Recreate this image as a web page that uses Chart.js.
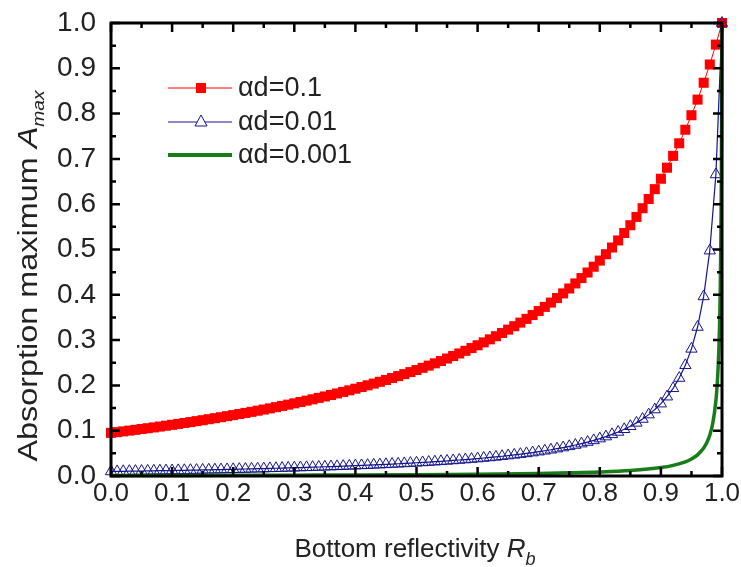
<!DOCTYPE html>
<html>
<head>
<meta charset="utf-8">
<script src="https://cdn.jsdelivr.net/npm/chart.js@4/dist/chart.umd.min.js"></script>
<style>
  body { margin: 0; background: #fff; }
  canvas { display: block; }
</style>
</head>
<body>
<canvas id="myChart" width="741" height="567"></canvas>
<script>
"use strict";

// bottom reflectivity R_b (shared by the two marker series)
const reflectivity = [
  0.00, 0.01, 0.02, 0.03, 0.04, 0.05, 0.06, 0.07, 0.08, 0.09,
  0.10, 0.11, 0.12, 0.13, 0.14, 0.15, 0.16, 0.17, 0.18, 0.19,
  0.20, 0.21, 0.22, 0.23, 0.24, 0.25, 0.26, 0.27, 0.28, 0.29,
  0.30, 0.31, 0.32, 0.33, 0.34, 0.35, 0.36, 0.37, 0.38, 0.39,
  0.40, 0.41, 0.42, 0.43, 0.44, 0.45, 0.46, 0.47, 0.48, 0.49,
  0.50, 0.51, 0.52, 0.53, 0.54, 0.55, 0.56, 0.57, 0.58, 0.59,
  0.60, 0.61, 0.62, 0.63, 0.64, 0.65, 0.66, 0.67, 0.68, 0.69,
  0.70, 0.71, 0.72, 0.73, 0.74, 0.75, 0.76, 0.77, 0.78, 0.79,
  0.80, 0.81, 0.82, 0.83, 0.84, 0.85, 0.86, 0.87, 0.88, 0.89,
  0.90, 0.91, 0.92, 0.93, 0.94, 0.95, 0.96, 0.97, 0.98, 0.99,
  1.00
];

// αd = 0.1 (red squares)
const amax01 = [
  0.0952, 0.0968, 0.0985, 0.1002, 0.1019, 0.1037, 0.1055, 0.1073, 0.1092, 0.1111,
  0.1130, 0.1150, 0.1170, 0.1190, 0.1211, 0.1232, 0.1254, 0.1276, 0.1298, 0.1321,
  0.1344, 0.1368, 0.1392, 0.1416, 0.1442, 0.1467, 0.1493, 0.1520, 0.1547, 0.1575,
  0.1604, 0.1633, 0.1663, 0.1693, 0.1724, 0.1756, 0.1789, 0.1822, 0.1856, 0.1891,
  0.1927, 0.1964, 0.2002, 0.2040, 0.2080, 0.2120, 0.2162, 0.2205, 0.2249, 0.2294,
  0.2340, 0.2388, 0.2437, 0.2487, 0.2539, 0.2593, 0.2648, 0.2705, 0.2763, 0.2824,
  0.2886, 0.2950, 0.3017, 0.3086, 0.3157, 0.3231, 0.3307, 0.3386, 0.3468, 0.3553,
  0.3641, 0.3733, 0.3828, 0.3928, 0.4031, 0.4139, 0.4251, 0.4369, 0.4492, 0.4620,
  0.4755, 0.4896, 0.5044, 0.5200, 0.5364, 0.5536, 0.5719, 0.5911, 0.6115, 0.6332,
  0.6562, 0.6806, 0.7067, 0.7345, 0.7644, 0.7964, 0.8309, 0.8681, 0.9084, 0.9523,
  1.0000
];

// αd = 0.01 (blue open triangles)
const amax001 = [
  0.0100, 0.0101, 0.0104, 0.0106, 0.0108, 0.0110, 0.0112, 0.0114, 0.0117, 0.0119,
  0.0121, 0.0124, 0.0126, 0.0129, 0.0131, 0.0134, 0.0137, 0.0139, 0.0142, 0.0145,
  0.0148, 0.0151, 0.0154, 0.0158, 0.0161, 0.0164, 0.0168, 0.0171, 0.0175, 0.0179,
  0.0183, 0.0187, 0.0191, 0.0195, 0.0199, 0.0204, 0.0209, 0.0213, 0.0218, 0.0223,
  0.0229, 0.0234, 0.0239, 0.0245, 0.0251, 0.0257, 0.0264, 0.0270, 0.0277, 0.0284,
  0.0292, 0.0299, 0.0307, 0.0316, 0.0324, 0.0333, 0.0343, 0.0353, 0.0363, 0.0374,
  0.0385, 0.0397, 0.0409, 0.0422, 0.0436, 0.0451, 0.0466, 0.0482, 0.0499, 0.0517,
  0.0537, 0.0557, 0.0579, 0.0603, 0.0628, 0.0655, 0.0684, 0.0715, 0.0749, 0.0786,
  0.0826, 0.0870, 0.0919, 0.0972, 0.1032, 0.1098, 0.1173, 0.1258, 0.1355, 0.1467,
  0.1597, 0.1751, 0.1936, 0.2162, 0.2444, 0.2806, 0.3289, 0.3964, 0.4975, 0.6656,
  1.0000
];

// αd = 0.001 (green line, denser near R_b = 1)
const reflectivity0001 = [0, 0.1, 0.2, 0.3, 0.4, 0.5, 0.6, 0.7, 0.75, 0.8, 0.85, 0.9, 0.92, 0.94, 0.95,
  0.96, 0.97, 0.975, 0.98, 0.985, 0.99, 0.992, 0.994, 0.995, 0.996, 0.997, 0.998, 0.999, 1.0];
const amax0001 = [0.0010, 0.0012, 0.0015, 0.0019, 0.0023, 0.0030, 0.0040, 0.0056, 0.0070, 0.0089, 0.0122, 0.0186, 0.0234, 0.0313, 0.0375,
  0.0467, 0.0616, 0.0732, 0.0901, 0.1169, 0.1660, 0.1994, 0.2494, 0.2851, 0.3328, 0.3995, 0.4995, 0.6661, 1.0];

const seriesNames = ["αd=0.1", "αd=0.01", "αd=0.001"];
const tickValues = [0, 0.1, 0.2, 0.3, 0.4, 0.5, 0.6, 0.7, 0.8, 0.9, 1.0];

const RED = "#ff0000", BLUE = "#14148c", GREEN = "#177d17", TXT = "#222";
const FONT = "'Liberation Sans', Arial, sans-serif";

function pts(xs, ys) {
    return xs.map((v, i) => ({ x: v, y: ys[i] }));
}

// inward ticks on all four sides + frame, legend, axis titles
const decor = {
    id: "decor",
    afterDraw(chart) {
        const { ctx, chartArea: a, scales: { x, y } } = chart;
        ctx.save();
        ctx.strokeStyle = "#000";
        ctx.lineCap = "butt";
        ctx.lineWidth = 2.5;
        tickValues.forEach((v, i) => {
            const px = x.getPixelForValue(v), py = y.getPixelForValue(v);
            ctx.beginPath();
            ctx.moveTo(px, a.bottom); ctx.lineTo(px, a.bottom - 9);
            ctx.moveTo(px, a.top); ctx.lineTo(px, a.top + 9);
            ctx.moveTo(a.left, py); ctx.lineTo(a.left + 9, py);
            ctx.moveTo(a.right, py); ctx.lineTo(a.right - 9, py);
            ctx.stroke();
            if (i < tickValues.length - 1) {
                const m = (v + tickValues[i + 1]) / 2;
                const mx = x.getPixelForValue(m), my = y.getPixelForValue(m);
                ctx.beginPath();
                ctx.moveTo(mx, a.bottom); ctx.lineTo(mx, a.bottom - 5);
                ctx.moveTo(mx, a.top); ctx.lineTo(mx, a.top + 5);
                ctx.moveTo(a.left, my); ctx.lineTo(a.left + 5, my);
                ctx.moveTo(a.right, my); ctx.lineTo(a.right - 5, my);
                ctx.stroke();
            }
        });
        ctx.lineWidth = 3;
        ctx.strokeRect(a.left, a.top, a.right - a.left, a.bottom - a.top);

        // legend
        const lx0 = 168, lx1 = 232, mx = 201, tx = 238;
        const rows = [88, 122, 155];
        ctx.lineWidth = 1;
        ctx.strokeStyle = RED;
        ctx.beginPath(); ctx.moveTo(lx0, rows[0]); ctx.lineTo(lx1, rows[0]); ctx.stroke();
        ctx.fillStyle = RED;
        ctx.fillRect(mx - 5, rows[0] - 5, 10, 10);
        ctx.strokeStyle = BLUE;
        ctx.beginPath(); ctx.moveTo(lx0, rows[1]); ctx.lineTo(lx1, rows[1]); ctx.stroke();
        ctx.fillStyle = "#fff";
        ctx.beginPath();
        ctx.moveTo(mx, rows[1] - 7); ctx.lineTo(mx + 6, rows[1] + 4); ctx.lineTo(mx - 6, rows[1] + 4);
        ctx.closePath(); ctx.fill(); ctx.stroke();
        ctx.strokeStyle = GREEN; ctx.lineWidth = 4;
        ctx.beginPath(); ctx.moveTo(lx0, rows[2]); ctx.lineTo(lx1, rows[2]); ctx.stroke();
        ctx.fillStyle = TXT;
        ctx.font = "27px " + FONT;
        ctx.textBaseline = "middle";
        ctx.textAlign = "left";
        seriesNames.forEach((s, i) => ctx.fillText(s, tx, rows[i] + 1));

        // x axis title: Bottom reflectivity R_b
        ctx.textBaseline = "alphabetic";
        const xa = "Bottom reflectivity ", xr = "R", xb = "b";
        ctx.font = "26px " + FONT;
        const w1 = ctx.measureText(xa).width;
        ctx.font = "italic 26px " + FONT;
        const w2 = ctx.measureText(xr).width;
        ctx.font = "italic 18px " + FONT;
        const w3 = ctx.measureText(xb).width;
        let sx = 415 - (w1 + w2 + w3) / 2, by = 557;
        ctx.font = "26px " + FONT; ctx.fillText(xa, sx, by);
        ctx.font = "italic 26px " + FONT; ctx.fillText(xr, sx + w1, by);
        ctx.font = "italic 18px " + FONT; ctx.fillText(xb, sx + w1 + w2, by + 8);

        // y axis title: Absorption maximum A_max (stretched along its length like the source)
        ctx.save();
        ctx.translate(37, 276);
        ctx.rotate(-Math.PI / 2);
        ctx.scale(1.2, 1);
        const ya = "Absorption maximum ", yA = "A", ym = "max";
        ctx.font = "27px " + FONT;
        const v1 = ctx.measureText(ya).width;
        ctx.font = "italic 27px " + FONT;
        const v2 = ctx.measureText(yA).width;
        ctx.font = "italic 16px " + FONT;
        const v3 = ctx.measureText(ym).width;
        const s0 = -(v1 + v2 + v3) / 2;
        ctx.font = "27px " + FONT; ctx.fillText(ya, s0, 0);
        ctx.font = "italic 27px " + FONT; ctx.fillText(yA, s0 + v1, 0);
        ctx.font = "italic 16px " + FONT; ctx.fillText(ym, s0 + v1 + v2, 7);
        ctx.restore();

        ctx.restore();
    }
};

const ctx = document.getElementById("myChart");
new Chart(ctx, {
    type: "scatter",
    data: {
        datasets: [{
            label: seriesNames[0],
            data: pts(reflectivity, amax01),
            showLine: true,
            borderColor: RED,
            borderWidth: 1,
            backgroundColor: RED,
            pointStyle: "rect",
            pointRadius: 7.1,
            pointBorderWidth: 0,
            clip: false,
            order: 2
        }, {
            label: seriesNames[1],
            data: pts(reflectivity, amax001),
            showLine: true,
            borderColor: BLUE,
            borderWidth: 1.2,
            backgroundColor: "rgba(0,0,0,0)",
            pointStyle: "triangle",
            pointRadius: 6.5,
            pointBorderWidth: 1,
            pointBorderColor: BLUE,
            clip: false,
            order: 1
        }, {
            label: seriesNames[2],
            data: pts(reflectivity0001, amax0001),
            showLine: true,
            borderColor: GREEN,
            borderWidth: 3.5,
            pointRadius: 0,
            cubicInterpolationMode: "monotone",
            clip: false,
            order: 0
        }]
    },
    options: {
        responsive: false,
        animation: false,
        layout: { padding: { top: 23, right: 19, left: 0, bottom: 0 } },
        scales: {
            x: {
                type: "linear",
                min: 0,
                max: 1,
                grid: { display: false, drawTicks: false },
                border: { display: false },
                afterBuildTicks: s => { s.ticks = tickValues.map(v => ({ value: v })); },
                afterFit: s => { s.height = 91; s.paddingLeft = 0; s.paddingRight = 0; },
                ticks: {
                    padding: 2,
                    color: TXT,
                    font: { family: FONT, size: 26 },
                    maxRotation: 0,
                    callback: v => v.toFixed(1)
                }
            },
            y: {
                type: "linear",
                min: 0,
                max: 1,
                grid: { display: false, drawTicks: false },
                border: { display: false },
                afterBuildTicks: s => { s.ticks = tickValues.map(v => ({ value: v })); },
                afterFit: s => { s.width = 111; s.paddingTop = 0; s.paddingBottom = 0; },
                ticks: {
                    padding: 15,
                    color: TXT,
                    font: { family: FONT, size: 28 },
                    callback: v => v.toFixed(1)
                }
            }
        },
        plugins: {
            legend: { display: false },
            tooltip: { enabled: false }
        }
    },
    plugins: [decor]
});
</script>
</body>
</html>
